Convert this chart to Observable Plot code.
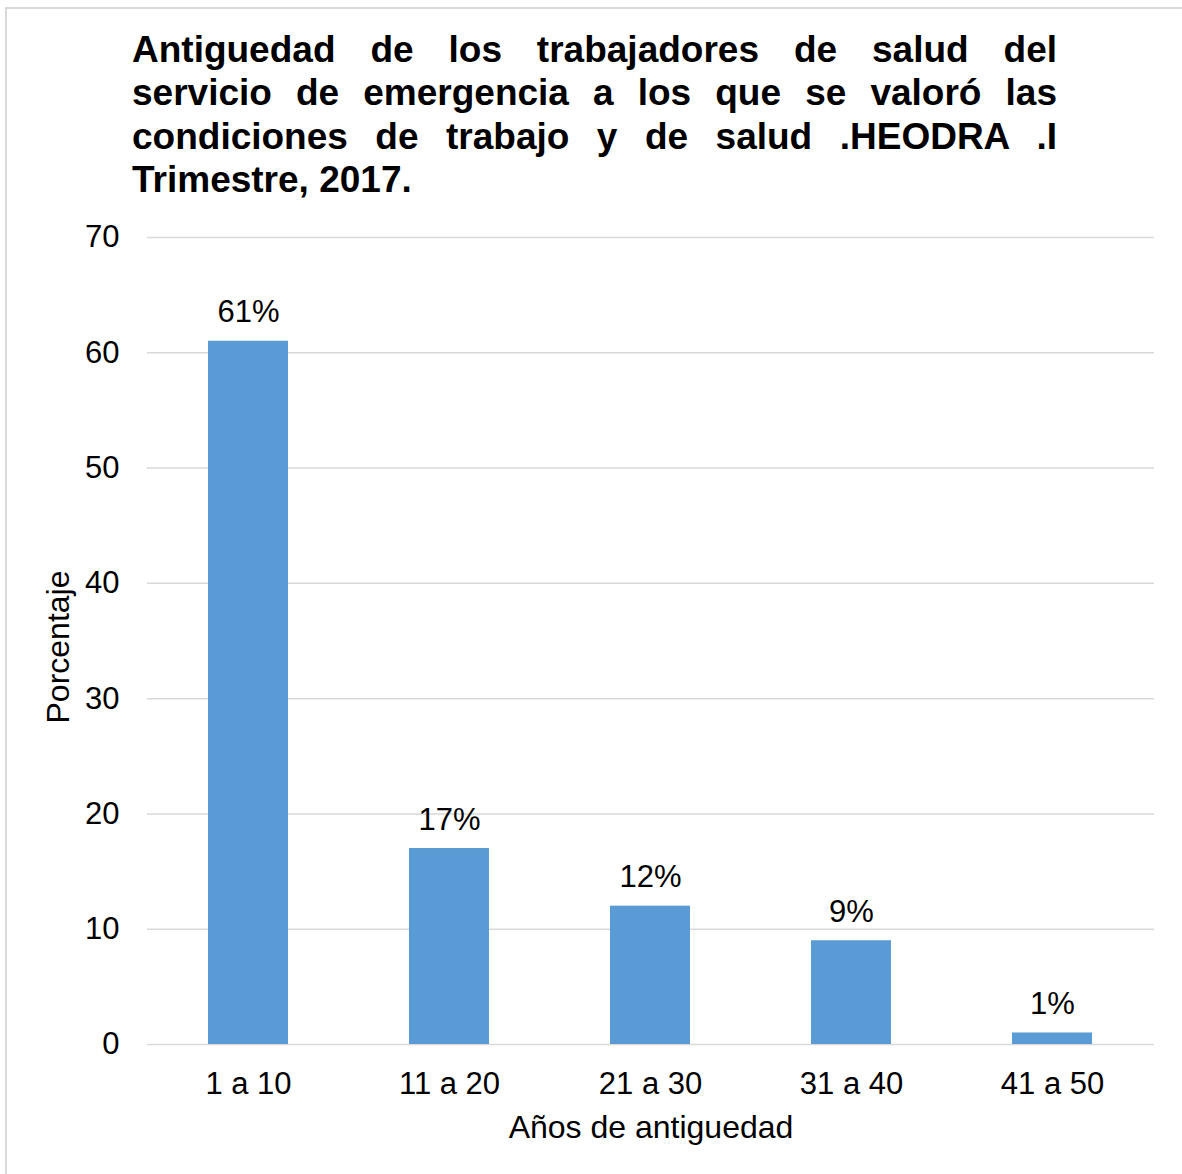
<!DOCTYPE html>
<html><head><meta charset="utf-8">
<script src="https://cdn.jsdelivr.net/npm/d3@7"></script>
<script src="https://cdn.jsdelivr.net/npm/@observablehq/plot@0.6"></script>
<style>
html,body{margin:0;padding:0;background:#fff;}
body{width:1182px;height:1174px;position:relative;overflow:hidden;font-family:"Liberation Sans",Arial,sans-serif;}
#frame{position:absolute;left:5px;top:7px;width:1200px;height:1200px;border-left:2px solid #d9d9d9;border-top:2px solid #d9d9d9;}
#title{position:absolute;left:132px;top:28px;width:925px;font-weight:bold;font-size:37px;line-height:43.3px;color:#000;}
#title span{display:block;text-align:justify;text-align-last:justify;white-space:normal;}
#title span.last{text-align-last:left;}
#chart{position:absolute;left:0;top:200px;}
</style>
</head><body>
<div id="frame"></div>
<div id="title"></div>
<div id="chart"></div>
<script>
const titleLines = [
  "Antiguedad de los trabajadores de salud del",
  "servicio de emergencia a los que se valoró las",
  "condiciones de trabajo y de salud .HEODRA .I",
  "Trimestre, 2017."
];
const categories = ["1 a 10", "11 a 20", "21 a 30", "31 a 40", "41 a 50"];
const values = [61, 17, 12, 9, 1];
const valueLabels = ["61%", "17%", "12%", "9%", "1%"];
const yTicks = [0, 10, 20, 30, 40, 50, 60, 70];
const xTitle = "Años de antiguedad";
const yTitle = "Porcentaje";

const titleEl = document.getElementById("title");
titleLines.forEach((t, i) => {
  const s = document.createElement("span");
  s.textContent = t;
  if (i === titleLines.length - 1) s.className = "last";
  titleEl.appendChild(s);
});

const data = categories.map((c, i) => ({cat: c, value: values[i], label: valueLabels[i]}));

const chart = Plot.plot({
  width: 1182,
  height: 974,
  marginTop: 37,
  marginBottom: 130,
  marginLeft: 147,
  marginRight: 28,
  style: {fontFamily: "'Liberation Sans', Arial, sans-serif", color: "#000", background: "transparent"},
  x: {domain: categories, paddingInner: 0.6, paddingOuter: 0.3, label: null},
  y: {domain: [0, 70], label: null},
  marks: [
    Plot.ruleY(yTicks, {stroke: "#d9d9d9", strokeWidth: 1.5}),
    Plot.barY(data, {x: "cat", y: "value", fill: "#5b9bd5"}),
    Plot.text(data, {x: "cat", y: "value", text: "label", lineAnchor: "bottom", dy: -19, fontSize: 31, fill: "#000"}),
    Plot.axisY({ticks: yTicks, tickSize: 0, tickPadding: 28, fontSize: 31, label: null, fill: "#000"}),
    Plot.axisX({tickSize: 0, tickPadding: 27, fontSize: 31, label: null, fill: "#000"}),
    Plot.text([xTitle], {text: d => d, frameAnchor: "bottom", dy: 83, fontSize: 32, lineAnchor: "middle", textAnchor: "middle", fill: "#000"}),
    Plot.text([yTitle], {text: d => d, frameAnchor: "left", dx: -89, dy: 6, rotate: -90, fontSize: 32, lineAnchor: "middle", textAnchor: "middle", fill: "#000"})
  ]
});
document.getElementById("chart").appendChild(chart);
</script>
</body></html>
